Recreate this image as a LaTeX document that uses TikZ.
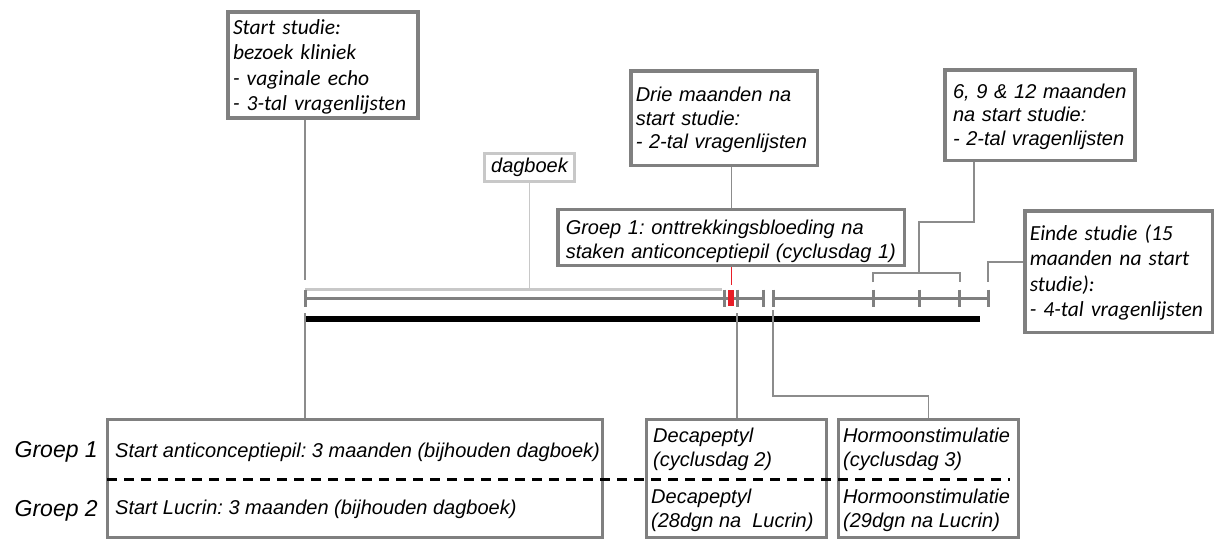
\documentclass[tikz,border=0pt]{standalone}
\usepackage{fontspec}
\setmainfont{Liberation Sans}
\newfontfamily\calibri{Carlito}
\definecolor{boxgray}{RGB}{128,128,128}
\definecolor{lightline}{RGB}{200,200,200}
\definecolor{conngray}{RGB}{140,140,140}
\definecolor{markred}{RGB}{232,30,40}
\frenchspacing

\begin{document}
\begin{tikzpicture}[x=1pt, y=-1pt,
    box/.style={draw=boxgray, line width=3.5pt, fill=white, inner xsep=5pt, align=left},
    lowbox/.style={draw=boxgray, line width=3pt},
    conn/.style={conngray, line width=1.2pt},
    tick/.style={boxgray, line width=3pt},
    arial/.style={font=\itshape\fontsize{20}{23.5}\selectfont},
    calib/.style={font=\calibri\itshape\fontsize{21.5}{25.5}\selectfont},
    grplabel/.style={font=\itshape\fontsize{23}{26}\selectfont, anchor=base east, inner sep=0pt},
    lowtext/.style={arial, anchor=base west, align=left, inner sep=0pt}]
  \useasboundingbox (0,0) rectangle (1216,541);

  % timeline
  \coordinate (t0) at (305,298);
  \coordinate (tA) at (724,298);
  \coordinate (tB) at (737,298);
  \coordinate (tC) at (763,298);
  \coordinate (tD) at (773,298);
  \coordinate (m6) at (873,298);
  \coordinate (m9) at (919,298);
  \coordinate (m12) at (959,298);
  \coordinate (m15) at (988,298);
  \coordinate (d0) at (305,289);
  \coordinate (d1) at (722,289);
  \coordinate (bleed) at (731.5,285);

  \draw[lightline, line width=3pt] (d0) -- (d1);
  \draw[tick] (t0) -- (tC);
  \draw[tick] (tD) -- (m15);
  \foreach \t in {t0,tA,tB,tC,tD,m6,m9,m12,m15}
    \draw[tick] ([yshift=8.5pt]\t) -- ([yshift=-8.5pt]\t);
  \fill[markred] (727.5,290) rectangle (733.5,306);
  \draw[black, line width=6pt] (305,319) -- (980,319);

  % boxes above
  \node[box, calib, text width=180pt, minimum height=106pt] (start) at (323,65)
    {\rule{0pt}{19pt}Start studie:\\bezoek kliniek\\- vaginale echo\\- 3-tal vragenlijsten};
  \node[draw=lightline, line width=3pt, arial, minimum width=90pt, minimum height=28pt, inner sep=2pt] (dag) at (529.5,167.5) {dagboek};
  \node[box, arial, text width=176.5pt, minimum height=94.5pt] (drie) at (724,118)
    {\rule{0pt}{19pt}Drie maanden na\\start studie:\\- 2-tal vragenlijsten};
  \node[box, arial, inner xsep=8pt, text width=174pt, minimum height=90.5pt] (zes) at (1040,115)
    {\rule{0pt}{18pt}6, 9 \& 12 maanden\\na start studie:\\- 2-tal vragenlijsten};
  \node[box, arial, inner xsep=8pt, text width=330.5pt, minimum height=55.5pt] (ontt) at (731,237.5)
    {\rule{0pt}{22pt}Groep 1: onttrekkingsbloeding na\\staken anticonceptiepil (cyclusdag 1)};
  \node[box, calib, text width=177.5pt, minimum height=121.5pt] (einde) at (1118.5,271.5)
    {\rule{0pt}{18pt}Einde studie (15\\maanden na start\\studie):\\- 4-tal vragenlijsten};

  % connectors above
  \draw[conn] (start.south -| t0) -- ++(0,160);
  \draw[lightline, line width=1.2pt] (dag.south) -- (dag.south |- d0);
  \draw[conn] (drie.south -| bleed) -- (ontt.north -| bleed);
  \draw[markred, line width=1pt] (ontt.south -| bleed) -- (bleed);
  \coordinate (brL) at (873,273);
  \coordinate (brR) at (960,273);
  \coordinate (zc) at (974,222);
  \coordinate (ec) at (988,262);
  \draw[conn] ([yshift=-9pt]brL) -- (brL) -- (brR) -- ([yshift=-9pt]brR);
  \draw[conn] (zes.south -| zc) -- (zc) -| (m9 |- brL);
  \draw[conn] (einde.west |- ec) -- (ec) -- ++(0,20);

  % boxes below
  \node[lowbox, minimum width=495pt, minimum height=118pt] (grpbox) at (355,478.5) {};
  \node[lowbox, minimum width=180pt, minimum height=118pt] (deca) at (736.5,478.5) {};
  \node[lowbox, minimum width=180pt, minimum height=118pt] (horm) at (928.5,478.5) {};
  \draw[black, line width=3pt, dash pattern=on 10pt off 7pt] (107,479) -- (1010,479);

  \draw[conn] ([yshift=-15pt]t0) -- (t0 |- grpbox.north);
  \draw[conn] ([yshift=-15pt]tB) -- (tB |- deca.north);
  \draw[conn] ([yshift=-12pt]tD) |- ([yshift=22pt]horm.north) -- (horm.north);

  \node[grplabel] (lab1) at (98,457) {Groep 1};
  \node[grplabel] (lab2) at (98,516) {Groep 2};
  \node[lowtext] (pil) at (115,457) {Start anticonceptiepil: 3 maanden (bijhouden dagboek)};
  \node[lowtext] (lucrin) at (115,514) {Start Lucrin: 3 maanden (bijhouden dagboek)};
  \node[lowtext] (deca1) at (653,466) {Decapeptyl\\(cyclusdag 2)};
  \node[lowtext] (deca2) at (651,527) {Decapeptyl\\(28dgn na~ Lucrin)};
  \node[lowtext] (horm1) at (843,466) {Hormoonstimulatie\\(cyclusdag 3)};
  \node[lowtext] (horm2) at (843,527) {Hormoonstimulatie\\(29dgn na Lucrin)};
\end{tikzpicture}
\end{document}
